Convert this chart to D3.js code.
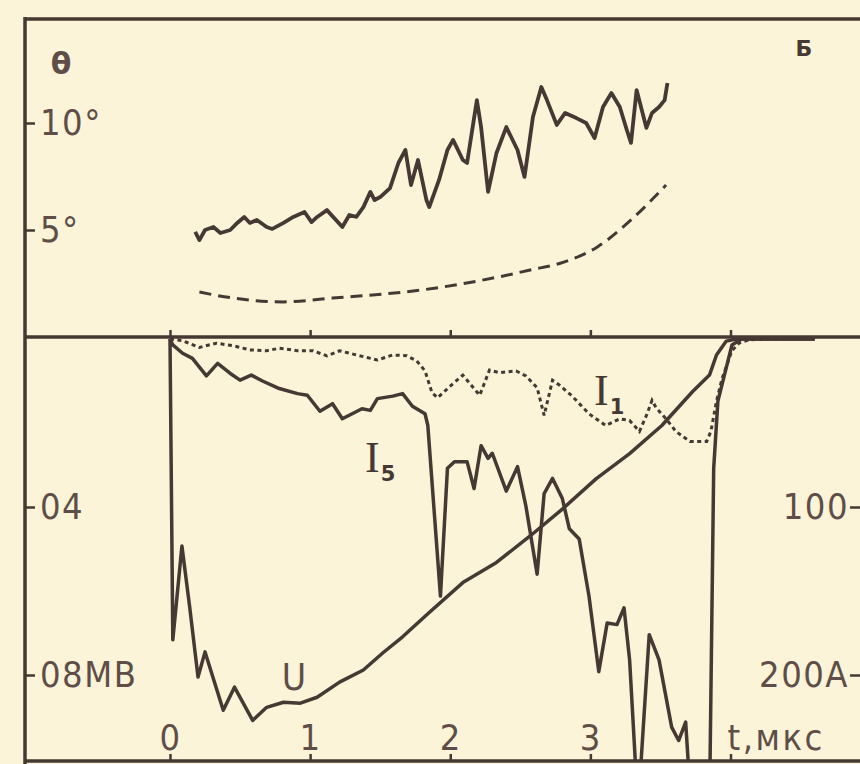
<!DOCTYPE html>
<html>
<head>
<meta charset="utf-8">
<script src="https://cdn.jsdelivr.net/npm/d3@7"></script>
<style>
  body { margin: 0; background: #fbf4d8; }
</style>
</head>
<body>
<svg id="chart" width="860" height="764"></svg>
<script>
// theta(t), top panel, solid
var thetaT = [0.18,0.21,0.25,0.31,0.36,0.43,0.48,0.53,0.57,0.62,0.69,0.73,0.81,0.88,0.96,1.01,1.05,1.12,1.23,1.28,1.33,1.38,1.43,1.46,1.50,1.57,1.63,1.68,1.72,1.77,1.83,1.85,1.92,1.98,2.02,2.09,2.12,2.19,2.22,2.27,2.33,2.40,2.48,2.53,2.59,2.65,2.69,2.76,2.82,2.90,2.97,3.03,3.09,3.15,3.21,3.26,3.29,3.33,3.40,3.44,3.49,3.53,3.55];
var thetaVal = [4.91,4.53,5.0,5.14,4.86,5.0,5.33,5.61,5.33,5.47,5.14,5.05,5.33,5.61,5.84,5.37,5.61,5.93,5.14,5.70,5.61,6.07,6.78,6.40,6.54,6.96,8.13,8.74,7.10,8.27,6.40,6.07,7.34,8.74,9.21,8.27,8.13,11.07,9.81,6.78,8.60,9.81,8.74,7.48,10.28,11.68,11.07,9.91,10.47,10.23,10.0,9.30,10.75,11.40,10.75,9.67,9.07,11.54,9.77,10.47,10.75,11.07,11.87];
// theta, dashed (calculated)
var thetaCalcT = [0.21,0.45,0.81,1.16,1.80,2.34,2.57,2.81,3.05,3.29,3.54];
var thetaCalcVal = [2.10,1.82,1.64,1.82,2.20,2.80,3.13,3.50,4.21,5.47,7.10];
// U, MV
var uT = [0,0.02,0.085,0.14,0.2,0.25,0.38,0.46,0.59,0.69,0.81,0.93,1.05,1.21,1.38,1.52,1.66,1.85,2.09,2.33,2.57,2.80,3.04,3.28,3.51,3.73,3.85,3.90,3.97,4.04,4.3,4.6];
var uVal = [0,0.716,0.493,0.637,0.805,0.745,0.884,0.829,0.908,0.877,0.865,0.867,0.853,0.817,0.788,0.747,0.709,0.651,0.580,0.532,0.469,0.405,0.333,0.273,0.206,0.125,0.086,0.038,0.005,0,0,0];
// I5, A
var i5T = [0,0.02,0.09,0.16,0.26,0.34,0.43,0.50,0.58,0.66,0.78,0.91,0.98,1.07,1.16,1.23,1.30,1.37,1.43,1.48,1.59,1.66,1.73,1.82,1.84,1.93,1.98,2.03,2.12,2.17,2.22,2.27,2.30,2.40,2.48,2.54,2.62,2.67,2.73,2.80,2.85,2.92,2.99,3.06,3.12,3.19,3.24,3.28,3.34,3.42,3.49,3.58,3.63,3.68,3.72,3.85,3.88,3.91,3.97,4.01,4.08,4.3,4.6];
var i5Val = [0,3.5,8.5,11.5,22,14.5,20.5,24.5,21.5,25,29.5,32.5,33.5,43,38.5,47.5,44.5,41.5,42.5,35.5,34,32.5,40,44.5,51.5,153,77,73,73,89,63.5,71,68,90.5,76,99.5,140,92,83,95,113,119,153,198,169,170,160,191,280,176,191,231,239,228,280,280,77,37,17,3.6,0,0,0];
// I1, A (dotted)
var i1T = [0,0.09,0.21,0.33,0.45,0.57,0.69,0.78,0.91,1.02,1.12,1.21,1.33,1.48,1.59,1.69,1.76,1.82,1.87,1.91,2.00,2.09,2.21,2.28,2.35,2.47,2.54,2.62,2.67,2.73,2.78,2.87,2.99,3.11,3.21,3.28,3.35,3.40,3.44,3.47,3.54,3.61,3.71,3.83,3.86,3.90,3.94,4.01,4.06,4.13,4.28,4.6];
var i1Val = [0,1,5,2.5,4,6.5,7,5.5,7,7,10,7,9.5,12.5,9.5,10,13,19,32,35,28,21.5,33.5,18.5,20,19,22,29,45.5,24.5,27.5,34,44.5,51.5,47.5,48.5,55,45.5,36.5,41,47.5,55,61,61,55,37,23.5,7,2.5,0.5,0,0];
// tick labels
var tTicks = [0,1,2,3];
var thetaTicks = [5,10];
var uTicks = [0.4,0.8];
var uLabels = ["04","08МВ"];
var iTicks = [100,200];
var iLabels = ["100","200A"];

var ink = "#463832";
var textInk = "#5e4e47";
var sans = '"Liberation Sans Narrow", "DejaVu Sans Condensed", "DejaVu Sans", sans-serif';
var svg = d3.select("#chart");
svg.append("rect").attr("width",860).attr("height",764).attr("fill","#fbf4d8");

var leftX = 25, rightX = 860, topY = 19, midY = 337, bottomY = 761;
var x = d3.scaleLinear().domain([0,4]).range([170,730.5]);
var yTheta = d3.scaleLinear().domain([0,10]).range([midY,123]);
var yU = d3.scaleLinear().domain([0,0.8]).range([339,675]);
var yI = d3.scaleLinear().domain([0,200]).range([339,675]);

function zip(a,b){ return a.map(function(d,i){ return [d,b[i]]; }); }

svg.append("clipPath").attr("id","lowclip").append("rect")
  .attr("x",leftX).attr("y",midY).attr("width",rightX-leftX).attr("height",bottomY-midY);

// top panel
var lineTheta = d3.line().x(function(d){ return x(d[0]); }).y(function(d){ return yTheta(d[1]); });
svg.append("path").attr("d", lineTheta(zip(thetaT,thetaVal)))
  .attr("fill","none").attr("stroke",ink).attr("stroke-width",3.8).attr("stroke-linejoin","round");
svg.append("path").attr("d", lineTheta.curve(d3.curveMonotoneX)(zip(thetaCalcT,thetaCalcVal)))
  .attr("fill","none").attr("stroke",ink).attr("stroke-width",3).attr("stroke-dasharray","12,7");

// bottom panel
var low = svg.append("g").attr("clip-path","url(#lowclip)");
var lineU = d3.line().x(function(d){ return x(d[0]); }).y(function(d){ return yU(d[1]); });
var lineI = d3.line().x(function(d){ return x(d[0]); }).y(function(d){ return yI(d[1]); });
low.append("path").attr("d", lineI(zip(i1T,i1Val)))
  .attr("fill","none").attr("stroke",ink).attr("stroke-width",3).attr("stroke-dasharray","4,3.5");
low.append("path").attr("d", lineU(zip(uT,uVal)))
  .attr("fill","none").attr("stroke",ink).attr("stroke-width",3.5).attr("stroke-linejoin","round");
low.append("path").attr("d", lineI(zip(i5T,i5Val)))
  .attr("fill","none").attr("stroke",ink).attr("stroke-width",3.5).attr("stroke-linejoin","round");

// frame
var frame = svg.append("g").attr("stroke",ink).attr("stroke-width",3.5);
frame.append("line").attr("x1",leftX).attr("x2",leftX).attr("y1",topY-2).attr("y2",764);
frame.append("line").attr("x1",leftX).attr("x2",rightX).attr("y1",topY).attr("y2",topY);
frame.append("line").attr("x1",leftX).attr("x2",rightX).attr("y1",midY).attr("y2",midY);
frame.append("line").attr("x1",leftX).attr("x2",rightX).attr("y1",bottomY).attr("y2",bottomY);

function style(g){
  g.select(".domain").remove();
  g.selectAll(".tick line").attr("stroke",ink).attr("stroke-width",2.5);
  g.selectAll(".tick text").attr("font-size",36).attr("fill",textInk).attr("font-family",sans)
    .attr("letter-spacing",1.5);
}

svg.append("g").attr("transform","translate("+leftX+",0)")
  .call(d3.axisRight(yTheta).tickValues(thetaTicks).tickSize(10).tickPadding(5).tickFormat(function(d){ return d+"°"; }))
  .call(style);
svg.append("g").attr("transform","translate("+leftX+",0)")
  .call(d3.axisRight(yU).tickValues(uTicks).tickSize(10).tickPadding(5).tickFormat(function(d,i){ return uLabels[i]; }))
  .call(style);
svg.append("g").attr("transform","translate("+rightX+",0)")
  .call(d3.axisLeft(yI).tickValues(iTicks).tickSize(10).tickPadding(1).tickFormat(function(d,i){ return iLabels[i]; }))
  .call(style);
svg.append("g").attr("transform","translate(0,"+bottomY+")")
  .call(d3.axisTop(x).tickValues([0,1,2,3,4]).tickSize(7).tickPadding(4).tickFormat(function(d){ return tTicks.indexOf(d) >= 0 ? d : ""; }))
  .call(style);
svg.append("g").attr("transform","translate(0,"+midY+")")
  .call(d3.axisTop(x).tickValues([0,1,2,3,4]).tickSize(7).tickFormat(""))
  .call(style);

// labels
svg.append("text").attr("x",x(4)-3).attr("y",750).attr("font-size",36).attr("letter-spacing",2.5)
  .attr("font-family",sans).attr("fill",textInk).text("t,мкс");
svg.append("text").attr("x",61).attr("y",74).attr("text-anchor","middle").attr("font-size",30)
  .attr("font-weight","bold").attr("font-family","DejaVu Sans").attr("fill",textInk).text("θ");
svg.append("text").attr("x",804).attr("y",56).attr("text-anchor","middle").attr("font-size",22)
  .attr("font-weight","bold").attr("font-family","DejaVu Sans").attr("fill",ink).text("Б");
svg.append("text").attr("x",294).attr("y",690).attr("text-anchor","middle").attr("font-size",37)
  .attr("font-family",sans).attr("fill",textInk).text("U");

function curLabel(xp, yp, sub){
  var t = svg.append("text").attr("x",xp).attr("y",yp).attr("font-family","Liberation Serif")
    .attr("font-size",44).attr("fill",ink);
  t.append("tspan").text("I");
  t.append("tspan").attr("dx",1).attr("dy",9).attr("font-size",21).attr("font-weight","bold")
    .attr("font-family","DejaVu Sans").text(sub);
}
curLabel(365, 472, "5");
curLabel(594, 405, "1");
</script>
</body>
</html>
